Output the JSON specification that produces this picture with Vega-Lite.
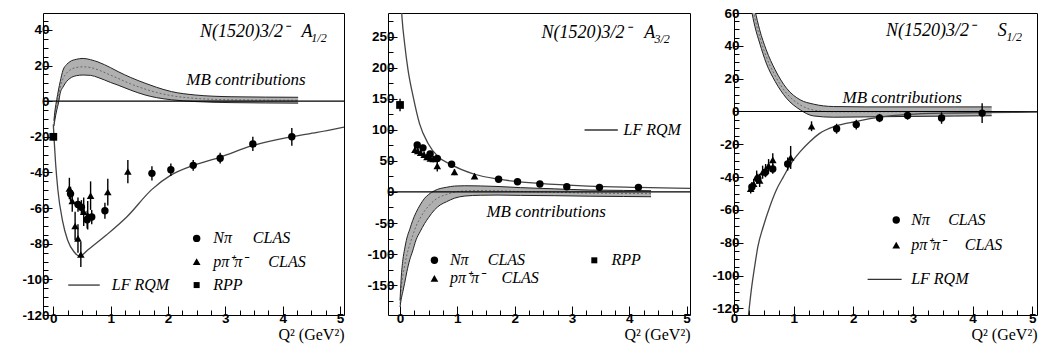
{
  "$schema": "https://vega.github.io/schema/vega-lite/v6.json",
  "background": "white",
  "padding": {"left": 21, "top": 5, "right": 2, "bottom": 2},
  "bounds": "flush",
  "spacing": 44,
  "config": {
    "view": {"stroke": "black", "strokeWidth": 1},
    "axis": {"domain": false, "grid": false, "labelFont": "Liberation Sans", "labelFontWeight": "bold", "labelFontSize": 13.5, "labelColor": "black", "tickColor": "black", "tickWidth": 1, "labelFlush": false, "titleFont": "Liberation Serif", "titleFontWeight": "normal", "titleFontSize": 16, "titleColor": "black"},
    "text": {"font": "Liberation Serif", "fontStyle": "italic", "fontSize": 16, "color": "black"}
  },
  "datasets": {
    "one": [{"k": 1}],
    "p1_pts": [
      {"q2": 0.3, "v": -52, "err": 4, "src": "Nπ CLAS"},
      {"q2": 0.43, "v": -58, "err": 4, "src": "Nπ CLAS"},
      {"q2": 0.49, "v": -59.5, "err": 4, "src": "Nπ CLAS"},
      {"q2": 0.59, "v": -66.5, "err": 5, "src": "Nπ CLAS"},
      {"q2": 0.67, "v": -65, "err": 4, "src": "Nπ CLAS"},
      {"q2": 0.9, "v": -61.5, "err": 4.5, "src": "Nπ CLAS"},
      {"q2": 1.72, "v": -40.5, "err": 4, "src": "Nπ CLAS"},
      {"q2": 2.05, "v": -38.5, "err": 3.5, "src": "Nπ CLAS"},
      {"q2": 2.44, "v": -36, "err": 3, "src": "Nπ CLAS"},
      {"q2": 2.91, "v": -32, "err": 3, "src": "Nπ CLAS"},
      {"q2": 3.48, "v": -24, "err": 4, "src": "Nπ CLAS"},
      {"q2": 4.16, "v": -20, "err": 5, "src": "Nπ CLAS"},
      {"q2": 0.28, "v": -49, "err": 6, "src": "pπ⁺π⁻ CLAS"},
      {"q2": 0.33, "v": -56, "err": 6, "src": "pπ⁺π⁻ CLAS"},
      {"q2": 0.38, "v": -70, "err": 8, "src": "pπ⁺π⁻ CLAS"},
      {"q2": 0.43, "v": -77, "err": 8, "src": "pπ⁺π⁻ CLAS"},
      {"q2": 0.48, "v": -86, "err": 7, "src": "pπ⁺π⁻ CLAS"},
      {"q2": 0.53, "v": -62, "err": 8, "src": "pπ⁺π⁻ CLAS"},
      {"q2": 0.6, "v": -64, "err": 8, "src": "pπ⁺π⁻ CLAS"},
      {"q2": 0.65, "v": -53, "err": 8, "src": "pπ⁺π⁻ CLAS"},
      {"q2": 0.95, "v": -51, "err": 7.5, "src": "pπ⁺π⁻ CLAS"},
      {"q2": 1.3, "v": -39.5, "err": 6.5, "src": "pπ⁺π⁻ CLAS"},
      {"q2": 0, "v": -20, "err": 2, "src": "RPP"}
    ],
    "p1_lf": [
      {"q2": 0, "v": -13}, {"q2": 0.015, "v": -22}, {"q2": 0.04, "v": -35}, {"q2": 0.08, "v": -50},
      {"q2": 0.16, "v": -67}, {"q2": 0.25, "v": -78}, {"q2": 0.36, "v": -84.5}, {"q2": 0.46, "v": -87},
      {"q2": 0.6, "v": -83.5}, {"q2": 0.93, "v": -75}, {"q2": 1.28, "v": -65}, {"q2": 1.72, "v": -49.5},
      {"q2": 2.05, "v": -41.5}, {"q2": 2.44, "v": -36}, {"q2": 2.9, "v": -31.5}, {"q2": 3.47, "v": -25},
      {"q2": 4.15, "v": -20}, {"q2": 4.6, "v": -17.5}, {"q2": 5.07, "v": -14.5}
    ],
    "p1_band": [
      {"q2": 0.01, "lo": -14, "mid": -12.5, "hi": -11}, {"q2": 0.03, "lo": -10, "mid": -7.5, "hi": -5}, {"q2": 0.06, "lo": -5, "mid": -2, "hi": 1},
      {"q2": 0.09, "lo": -1, "mid": 2.6, "hi": 6.3}, {"q2": 0.12, "lo": 4.5, "mid": 7.7, "hi": 11}, {"q2": 0.17, "lo": 8, "mid": 12.7, "hi": 17.5},
      {"q2": 0.23, "lo": 11, "mid": 15.7, "hi": 20.5}, {"q2": 0.29, "lo": 12.8, "mid": 17.5, "hi": 22.2}, {"q2": 0.4, "lo": 14.3, "mid": 18.9, "hi": 23.5},
      {"q2": 0.52, "lo": 14.7, "mid": 19.3, "hi": 24}, {"q2": 0.65, "lo": 14.5, "mid": 18.9, "hi": 23.3}, {"q2": 0.78, "lo": 13.3, "mid": 17.6, "hi": 22},
      {"q2": 1.0, "lo": 10.5, "mid": 14.6, "hi": 18.8}, {"q2": 1.13, "lo": 9, "mid": 12.8, "hi": 16.6}, {"q2": 1.35, "lo": 6.2, "mid": 9.7, "hi": 13.3},
      {"q2": 1.6, "lo": 3.5, "mid": 6.8, "hi": 10.1}, {"q2": 1.8, "lo": 2, "mid": 4.9, "hi": 7.8}, {"q2": 2.06, "lo": 0.8, "mid": 3.1, "hi": 5.4},
      {"q2": 2.47, "lo": -0.2, "mid": 1.6, "hi": 3.5}, {"q2": 3.1, "lo": -0.8, "mid": 0.8, "hi": 2.5}, {"q2": 3.7, "lo": -1, "mid": 0.6, "hi": 2.3},
      {"q2": 4.27, "lo": -1.1, "mid": 0.5, "hi": 2.2}
    ],
    "p2_pts": [
      {"q2": 0.3, "v": 75.5, "err": 5, "src": "Nπ CLAS"},
      {"q2": 0.4, "v": 71, "err": 5, "src": "Nπ CLAS"},
      {"q2": 0.525, "v": 61, "err": 5, "src": "Nπ CLAS"},
      {"q2": 0.65, "v": 54, "err": 5, "src": "Nπ CLAS"},
      {"q2": 0.9, "v": 44.5, "err": 5, "src": "Nπ CLAS"},
      {"q2": 1.72, "v": 20.5, "err": 3, "src": "Nπ CLAS"},
      {"q2": 2.05, "v": 16.5, "err": 3, "src": "Nπ CLAS"},
      {"q2": 2.44, "v": 12.7, "err": 3, "src": "Nπ CLAS"},
      {"q2": 2.91, "v": 8.4, "err": 3, "src": "Nπ CLAS"},
      {"q2": 3.48, "v": 7.4, "err": 3, "src": "Nπ CLAS"},
      {"q2": 4.16, "v": 7.4, "err": 3, "src": "Nπ CLAS"},
      {"q2": 0.26, "v": 68, "err": 5, "src": "pπ⁺π⁻ CLAS"},
      {"q2": 0.31, "v": 66, "err": 5, "src": "pπ⁺π⁻ CLAS"},
      {"q2": 0.36, "v": 63, "err": 5, "src": "pπ⁺π⁻ CLAS"},
      {"q2": 0.42, "v": 60, "err": 5, "src": "pπ⁺π⁻ CLAS"},
      {"q2": 0.47, "v": 56.5, "err": 5, "src": "pπ⁺π⁻ CLAS"},
      {"q2": 0.53, "v": 54, "err": 5, "src": "pπ⁺π⁻ CLAS"},
      {"q2": 0.58, "v": 53, "err": 5, "src": "pπ⁺π⁻ CLAS"},
      {"q2": 0.65, "v": 42, "err": 9, "src": "pπ⁺π⁻ CLAS"},
      {"q2": 0.95, "v": 32, "err": 5, "src": "pπ⁺π⁻ CLAS"},
      {"q2": 1.3, "v": 25.5, "err": 4, "src": "pπ⁺π⁻ CLAS"},
      {"q2": 0, "v": 140, "err": 10, "src": "RPP"}
    ],
    "p2_lf": [
      {"q2": 0.015, "v": 310}, {"q2": 0.035, "v": 280}, {"q2": 0.08, "v": 239}, {"q2": 0.14, "v": 196},
      {"q2": 0.23, "v": 153}, {"q2": 0.34, "v": 110}, {"q2": 0.49, "v": 78}, {"q2": 0.66, "v": 57},
      {"q2": 0.89, "v": 44}, {"q2": 1.3, "v": 28.5}, {"q2": 1.72, "v": 20.5}, {"q2": 2.43, "v": 13.8},
      {"q2": 3.28, "v": 9.5}, {"q2": 4.14, "v": 7.4}, {"q2": 5.06, "v": 5.7}
    ],
    "p2_band": [
      {"q2": 0, "lo": -185, "mid": -180, "hi": -175}, {"q2": 0.02, "lo": -173, "mid": -156, "hi": -139}, {"q2": 0.05, "lo": -160, "mid": -134, "hi": -109},
      {"q2": 0.08, "lo": -147, "mid": -119, "hi": -92}, {"q2": 0.12, "lo": -128, "mid": -101, "hi": -74}, {"q2": 0.17, "lo": -109, "mid": -84.5, "hi": -60},
      {"q2": 0.22, "lo": -95, "mid": -70.5, "hi": -46}, {"q2": 0.28, "lo": -77, "mid": -55, "hi": -33}, {"q2": 0.35, "lo": -64, "mid": -42.5, "hi": -21},
      {"q2": 0.43, "lo": -50.6, "mid": -30.3, "hi": -10}, {"q2": 0.5, "lo": -41, "mid": -22.5, "hi": -4}, {"q2": 0.6, "lo": -29, "mid": -13.5, "hi": 2},
      {"q2": 0.7, "lo": -21, "mid": -7.7, "hi": 5.5}, {"q2": 0.81, "lo": -15.8, "mid": -4.1, "hi": 7.5}, {"q2": 0.95, "lo": -10, "mid": -0.2, "hi": 9.5},
      {"q2": 1.13, "lo": -6.6, "mid": 1.7, "hi": 10}, {"q2": 1.4, "lo": -5.3, "mid": 2.2, "hi": 9.7}, {"q2": 1.71, "lo": -5, "mid": 1.9, "hi": 8.8},
      {"q2": 2.1, "lo": -5.5, "mid": 0.7, "hi": 7}, {"q2": 2.7, "lo": -6, "mid": -0.5, "hi": 5}, {"q2": 3.3, "lo": -6.8, "mid": -1.8, "hi": 3.1},
      {"q2": 3.9, "lo": -7.3, "mid": -2.4, "hi": 2.5}, {"q2": 4.38, "lo": -7.7, "mid": -2.8, "hi": 2}
    ],
    "p3_pts": [
      {"q2": 0.3, "v": -46, "err": 3, "src": "Nπ CLAS"},
      {"q2": 0.4, "v": -41, "err": 3, "src": "Nπ CLAS"},
      {"q2": 0.525, "v": -37, "err": 3, "src": "Nπ CLAS"},
      {"q2": 0.65, "v": -35, "err": 3, "src": "Nπ CLAS"},
      {"q2": 0.9, "v": -32, "err": 4, "src": "Nπ CLAS"},
      {"q2": 1.72, "v": -10.5, "err": 3, "src": "Nπ CLAS"},
      {"q2": 2.05, "v": -8, "err": 3, "src": "Nπ CLAS"},
      {"q2": 2.44, "v": -4, "err": 2.5, "src": "Nπ CLAS"},
      {"q2": 2.91, "v": -2.5, "err": 2.5, "src": "Nπ CLAS"},
      {"q2": 3.48, "v": -4, "err": 3.5, "src": "Nπ CLAS"},
      {"q2": 4.16, "v": -1, "err": 6, "src": "Nπ CLAS"},
      {"q2": 0.28, "v": -47, "err": 3, "src": "pπ⁺π⁻ CLAS"},
      {"q2": 0.33, "v": -44, "err": 3, "src": "pπ⁺π⁻ CLAS"},
      {"q2": 0.38, "v": -40, "err": 4, "src": "pπ⁺π⁻ CLAS"},
      {"q2": 0.43, "v": -42, "err": 4, "src": "pπ⁺π⁻ CLAS"},
      {"q2": 0.48, "v": -37, "err": 4, "src": "pπ⁺π⁻ CLAS"},
      {"q2": 0.53, "v": -36, "err": 4, "src": "pπ⁺π⁻ CLAS"},
      {"q2": 0.58, "v": -33, "err": 4, "src": "pπ⁺π⁻ CLAS"},
      {"q2": 0.65, "v": -29.5, "err": 4, "src": "pπ⁺π⁻ CLAS"},
      {"q2": 0.95, "v": -28, "err": 7, "src": "pπ⁺π⁻ CLAS"},
      {"q2": 1.3, "v": -9, "err": 3, "src": "pπ⁺π⁻ CLAS"}
    ],
    "p3_lf": [
      {"q2": 0.22, "v": -132}, {"q2": 0.29, "v": -108.8}, {"q2": 0.35, "v": -93.6}, {"q2": 0.4, "v": -82.4},
      {"q2": 0.49, "v": -70.2}, {"q2": 0.6, "v": -58}, {"q2": 0.71, "v": -47.8}, {"q2": 0.83, "v": -39.7},
      {"q2": 0.96, "v": -31.5}, {"q2": 1.11, "v": -24.5}, {"q2": 1.27, "v": -18.5}, {"q2": 1.43, "v": -13.5},
      {"q2": 1.71, "v": -8.8}, {"q2": 2.05, "v": -6.1}, {"q2": 2.44, "v": -3.5}, {"q2": 2.92, "v": -1.8},
      {"q2": 3.48, "v": -1.0}, {"q2": 4.18, "v": -0.7}, {"q2": 5.08, "v": -0.4}
    ],
    "p3_band": [
      {"q2": 0.27, "lo": 65.5, "mid": 71, "hi": 77}, {"q2": 0.29, "lo": 62, "mid": 67.5, "hi": 73}, {"q2": 0.35, "lo": 51.8, "mid": 56.9, "hi": 62},
      {"q2": 0.43, "lo": 41.7, "mid": 45.7, "hi": 49.8}, {"q2": 0.54, "lo": 29.5, "mid": 33.5, "hi": 37.6}, {"q2": 0.69, "lo": 18.3, "mid": 21.8, "hi": 25.4},
      {"q2": 0.88, "lo": 8.1, "mid": 11.1, "hi": 14.2}, {"q2": 1.11, "lo": 1.0, "mid": 4, "hi": 7.1}, {"q2": 1.33, "lo": -2.7, "mid": 0.9, "hi": 4.5},
      {"q2": 1.67, "lo": -3.5, "mid": -0.2, "hi": 3.0}, {"q2": 2.2, "lo": -3.3, "mid": -0.2, "hi": 2.8}, {"q2": 3.0, "lo": -3, "mid": -0.1, "hi": 2.8},
      {"q2": 3.7, "lo": -2.8, "mid": 0, "hi": 2.8}, {"q2": 4.32, "lo": -2.6, "mid": 0.1, "hi": 2.8}
    ]
  },
  "hconcat": [
    {
      "width": 301, "height": 302,
      "resolve": {"axis": {"x": "independent", "y": "independent"}},
      "layer": [
        {"data": {"name": "p1_band"}, "mark": {"type": "area", "clip": true, "fill": "#b0b0b0", "interpolate": "monotone"},
         "encoding": {
           "x": {"field": "q2", "type": "quantitative", "scale": {"domain": [-0.18, 5.07], "nice": false, "zero": false},
                 "axis": {"orient": "bottom", "title": "Q² (GeV²)", "titleAnchor": "end", "titlePadding": 2, "values": [0, 1, 2, 3, 4, 5],
                          "labelExpr": "''+datum.value", "labelPadding": 5, "tickSize": -9}},
           "y": {"field": "lo", "type": "quantitative", "scale": {"domain": [-120, 49.5], "nice": false, "zero": false},
                 "axis": {"orient": "left", "title": null, "values": [-120, -100, -80, -60, -40, -20, 0, 20, 40],
                          "labelExpr": "''+datum.value", "labelPadding": 3, "tickSize": -9}},
           "y2": {"field": "hi"}}},
        {"data": {"name": "p1_band"}, "mark": {"type": "line", "clip": true, "stroke": "#555555", "strokeWidth": 0.8, "strokeDash": [2, 2], "interpolate": "monotone"},
         "encoding": {
           "x": {"field": "q2", "type": "quantitative", "axis": {"orient": "bottom", "title": null, "labels": false, "domain": false, "tickSize": -5,
                 "values": [0,0.25,0.5,0.75,1,1.25,1.5,1.75,2,2.25,2.5,2.75,3,3.25,3.5,3.75,4,4.25,4.5,4.75,5]}},
           "y": {"field": "mid", "type": "quantitative", "axis": {"orient": "left", "title": null, "labels": false, "domain": false, "tickSize": -5,
                 "values": [-120,-115,-110,-105,-100,-95,-90,-85,-80,-75,-70,-65,-60,-55,-50,-45,-40,-35,-30,-25,-20,-15,-10,-5,0,5,10,15,20,25,30,35,40,45]}}}},
        {"data": {"name": "p1_band"}, "mark": {"type": "line", "clip": true, "stroke": "#222222", "strokeWidth": 1, "interpolate": "monotone"},
         "encoding": {"x": {"field": "q2", "type": "quantitative", "axis": null}, "y": {"field": "hi", "type": "quantitative", "axis": null}}},
        {"data": {"name": "p1_band"}, "mark": {"type": "line", "clip": true, "stroke": "#222222", "strokeWidth": 1, "interpolate": "monotone"},
         "encoding": {"x": {"field": "q2", "type": "quantitative", "axis": null}, "y": {"field": "lo", "type": "quantitative", "axis": null}}},
        {"data": {"name": "one"}, "mark": {"type": "rule", "color": "black", "strokeWidth": 1.2},
         "encoding": {"y": {"datum": 0, "type": "quantitative", "axis": null}}},
        {"data": {"name": "p1_lf"}, "mark": {"type": "line", "clip": true, "stroke": "#444444", "strokeWidth": 1.3, "interpolate": "monotone"},
         "encoding": {"x": {"field": "q2", "type": "quantitative", "axis": null}, "y": {"field": "v", "type": "quantitative", "axis": null}}},
        {"data": {"name": "p1_pts"}, "mark": {"type": "errorbar", "ticks": false, "thickness": 1.4, "color": "black"},
         "encoding": {"x": {"field": "q2", "type": "quantitative", "axis": null}, "y": {"field": "v", "type": "quantitative", "axis": null}, "yError": {"field": "err"}}},
        {"data": {"name": "p1_pts"}, "mark": {"type": "point", "filled": true, "opacity": 1, "color": "black"},
         "encoding": {"x": {"field": "q2", "type": "quantitative", "axis": null}, "y": {"field": "v", "type": "quantitative", "axis": null},
           "shape": {"field": "src", "type": "nominal", "scale": {"domain": ["Nπ CLAS", "pπ⁺π⁻ CLAS", "RPP"], "range": ["circle", "triangle-up", "square"]}, "legend": null},
           "size": {"field": "src", "type": "ordinal", "scale": {"domain": ["Nπ CLAS", "pπ⁺π⁻ CLAS", "RPP"], "range": [55, 60, 36]}, "legend": null}}},
        {"data": {"name": "one"}, "mark": {"type": "text", "text": "N(1520)3/2⁻", "align": "left", "baseline": "middle", "fontSize": 18},
         "encoding": {"x": {"datum": 2.56, "type": "quantitative", "axis": null}, "y": {"datum": 38.9, "type": "quantitative", "axis": null}}},
        {"data": {"name": "one"}, "mark": {"type": "text", "text": "A", "align": "left", "baseline": "middle", "fontSize": 18},
         "encoding": {"x": {"datum": 4.33, "type": "quantitative", "axis": null}, "y": {"datum": 38.9, "type": "quantitative", "axis": null}}},
        {"data": {"name": "one"}, "mark": {"type": "text", "text": "1/2", "align": "left", "baseline": "middle", "fontSize": 12, "dy": 6},
         "encoding": {"x": {"datum": 4.5, "type": "quantitative", "axis": null}, "y": {"datum": 38.9, "type": "quantitative", "axis": null}}},
        {"data": {"name": "one"}, "mark": {"type": "text", "text": "MB contributions", "align": "center", "baseline": "middle", "fontSize": 17},
         "encoding": {"x": {"datum": 3.36, "type": "quantitative", "axis": null}, "y": {"datum": 11.9, "type": "quantitative", "axis": null}}},
        {"data": {"name": "one"}, "mark": {"type": "point", "shape": "circle", "filled": true, "opacity": 1, "color": "black", "size": 55},
         "encoding": {"x": {"datum": 2.5, "type": "quantitative", "axis": null}, "y": {"datum": -77, "type": "quantitative", "axis": null}}},
        {"data": {"name": "one"}, "mark": {"type": "text", "text": "Nπ", "align": "left", "baseline": "middle"},
         "encoding": {"x": {"datum": 2.79, "type": "quantitative", "axis": null}, "y": {"datum": -77, "type": "quantitative", "axis": null}}},
        {"data": {"name": "one"}, "mark": {"type": "text", "text": "CLAS", "align": "left", "baseline": "middle"},
         "encoding": {"x": {"datum": 3.48, "type": "quantitative", "axis": null}, "y": {"datum": -77, "type": "quantitative", "axis": null}}},
        {"data": {"name": "one"}, "mark": {"type": "point", "shape": "triangle-up", "filled": true, "opacity": 1, "color": "black", "size": 60},
         "encoding": {"x": {"datum": 2.5, "type": "quantitative", "axis": null}, "y": {"datum": -90, "type": "quantitative", "axis": null}}},
        {"data": {"name": "one"}, "mark": {"type": "text", "text": "pπ⁺π⁻", "align": "left", "baseline": "middle"},
         "encoding": {"x": {"datum": 2.79, "type": "quantitative", "axis": null}, "y": {"datum": -90, "type": "quantitative", "axis": null}}},
        {"data": {"name": "one"}, "mark": {"type": "text", "text": "CLAS", "align": "left", "baseline": "middle"},
         "encoding": {"x": {"datum": 3.75, "type": "quantitative", "axis": null}, "y": {"datum": -90, "type": "quantitative", "axis": null}}},
        {"data": {"name": "one"}, "mark": {"type": "rule", "color": "#333333", "strokeWidth": 1.3},
         "encoding": {"x": {"datum": 0.26, "type": "quantitative", "axis": null}, "x2": {"datum": 0.81}, "y": {"datum": -103.2, "type": "quantitative", "axis": null}}},
        {"data": {"name": "one"}, "mark": {"type": "text", "text": "LF RQM", "align": "left", "baseline": "middle"},
         "encoding": {"x": {"datum": 1.02, "type": "quantitative", "axis": null}, "y": {"datum": -103.2, "type": "quantitative", "axis": null}}},
        {"data": {"name": "one"}, "mark": {"type": "point", "shape": "square", "filled": true, "opacity": 1, "color": "black", "size": 36},
         "encoding": {"x": {"datum": 2.5, "type": "quantitative", "axis": null}, "y": {"datum": -103.2, "type": "quantitative", "axis": null}}},
        {"data": {"name": "one"}, "mark": {"type": "text", "text": "RPP", "align": "left", "baseline": "middle"},
         "encoding": {"x": {"datum": 2.79, "type": "quantitative", "axis": null}, "y": {"datum": -103.2, "type": "quantitative", "axis": null}}}
      ]
    },
    {
      "width": 302, "height": 302,
      "resolve": {"axis": {"x": "independent", "y": "independent"}},
      "layer": [
        {"data": {"name": "p2_band"}, "mark": {"type": "area", "clip": true, "fill": "#b0b0b0", "interpolate": "monotone"},
         "encoding": {
           "x": {"field": "q2", "type": "quantitative", "scale": {"domain": [-0.21, 5.06], "nice": false, "zero": false},
                 "axis": {"orient": "bottom", "title": "Q² (GeV²)", "titleAnchor": "end", "titlePadding": 2, "values": [0, 1, 2, 3, 4, 5],
                          "labelExpr": "''+datum.value", "labelPadding": 5, "tickSize": -9}},
           "y": {"field": "lo", "type": "quantitative", "scale": {"domain": [-198, 288], "nice": false, "zero": false},
                 "axis": {"orient": "left", "title": null, "values": [-150, -100, -50, 0, 50, 100, 150, 200, 250],
                          "labelExpr": "''+datum.value", "labelPadding": 3, "tickSize": -9}},
           "y2": {"field": "hi"}}},
        {"data": {"name": "p2_band"}, "mark": {"type": "line", "clip": true, "stroke": "#555555", "strokeWidth": 0.8, "strokeDash": [2, 2], "interpolate": "monotone"},
         "encoding": {
           "x": {"field": "q2", "type": "quantitative", "axis": {"orient": "bottom", "title": null, "labels": false, "domain": false, "tickSize": -5,
                 "values": [0,0.25,0.5,0.75,1,1.25,1.5,1.75,2,2.25,2.5,2.75,3,3.25,3.5,3.75,4,4.25,4.5,4.75,5]}},
           "y": {"field": "mid", "type": "quantitative", "axis": {"orient": "left", "title": null, "labels": false, "domain": false, "tickSize": -5,
                 "values": [-175,-150,-125,-100,-75,-50,-25,0,25,50,75,100,125,150,175,200,225,250,275]}}}},
        {"data": {"name": "p2_band"}, "mark": {"type": "line", "clip": true, "stroke": "#222222", "strokeWidth": 1, "interpolate": "monotone"},
         "encoding": {"x": {"field": "q2", "type": "quantitative", "axis": null}, "y": {"field": "hi", "type": "quantitative", "axis": null}}},
        {"data": {"name": "p2_band"}, "mark": {"type": "line", "clip": true, "stroke": "#222222", "strokeWidth": 1, "interpolate": "monotone"},
         "encoding": {"x": {"field": "q2", "type": "quantitative", "axis": null}, "y": {"field": "lo", "type": "quantitative", "axis": null}}},
        {"data": {"name": "one"}, "mark": {"type": "rule", "color": "black", "strokeWidth": 1.2},
         "encoding": {"y": {"datum": 0, "type": "quantitative", "axis": null}}},
        {"data": {"name": "p2_lf"}, "mark": {"type": "line", "clip": true, "stroke": "#444444", "strokeWidth": 1.3, "interpolate": "monotone"},
         "encoding": {"x": {"field": "q2", "type": "quantitative", "axis": null}, "y": {"field": "v", "type": "quantitative", "axis": null}}},
        {"data": {"name": "p2_pts"}, "mark": {"type": "errorbar", "ticks": false, "thickness": 1.4, "color": "black"},
         "encoding": {"x": {"field": "q2", "type": "quantitative", "axis": null}, "y": {"field": "v", "type": "quantitative", "axis": null}, "yError": {"field": "err"}}},
        {"data": {"name": "p2_pts"}, "mark": {"type": "point", "filled": true, "opacity": 1, "color": "black"},
         "encoding": {"x": {"field": "q2", "type": "quantitative", "axis": null}, "y": {"field": "v", "type": "quantitative", "axis": null},
           "shape": {"field": "src", "type": "nominal", "scale": {"domain": ["Nπ CLAS", "pπ⁺π⁻ CLAS", "RPP"], "range": ["circle", "triangle-up", "square"]}, "legend": null},
           "size": {"field": "src", "type": "ordinal", "scale": {"domain": ["Nπ CLAS", "pπ⁺π⁻ CLAS", "RPP"], "range": [55, 60, 36]}, "legend": null}}},
        {"data": {"name": "one"}, "mark": {"type": "text", "text": "N(1520)3/2⁻", "align": "left", "baseline": "middle", "fontSize": 18},
         "encoding": {"x": {"datum": 2.47, "type": "quantitative", "axis": null}, "y": {"datum": 256, "type": "quantitative", "axis": null}}},
        {"data": {"name": "one"}, "mark": {"type": "text", "text": "A", "align": "left", "baseline": "middle", "fontSize": 18},
         "encoding": {"x": {"datum": 4.26, "type": "quantitative", "axis": null}, "y": {"datum": 256, "type": "quantitative", "axis": null}}},
        {"data": {"name": "one"}, "mark": {"type": "text", "text": "3/2", "align": "left", "baseline": "middle", "fontSize": 12, "dy": 6},
         "encoding": {"x": {"datum": 4.44, "type": "quantitative", "axis": null}, "y": {"datum": 256, "type": "quantitative", "axis": null}}},
        {"data": {"name": "one"}, "mark": {"type": "text", "text": "MB contributions", "align": "center", "baseline": "middle", "fontSize": 17},
         "encoding": {"x": {"datum": 2.55, "type": "quantitative", "axis": null}, "y": {"datum": -32, "type": "quantitative", "axis": null}}},
        {"data": {"name": "one"}, "mark": {"type": "rule", "color": "#333333", "strokeWidth": 1.3},
         "encoding": {"x": {"datum": 3.22, "type": "quantitative", "axis": null}, "x2": {"datum": 3.8}, "y": {"datum": 99.7, "type": "quantitative", "axis": null}}},
        {"data": {"name": "one"}, "mark": {"type": "text", "text": "LF RQM", "align": "left", "baseline": "middle"},
         "encoding": {"x": {"datum": 3.9, "type": "quantitative", "axis": null}, "y": {"datum": 99.7, "type": "quantitative", "axis": null}}},
        {"data": {"name": "one"}, "mark": {"type": "point", "shape": "circle", "filled": true, "opacity": 1, "color": "black", "size": 55},
         "encoding": {"x": {"datum": 0.6, "type": "quantitative", "axis": null}, "y": {"datum": -110, "type": "quantitative", "axis": null}}},
        {"data": {"name": "one"}, "mark": {"type": "text", "text": "Nπ", "align": "left", "baseline": "middle"},
         "encoding": {"x": {"datum": 0.87, "type": "quantitative", "axis": null}, "y": {"datum": -110, "type": "quantitative", "axis": null}}},
        {"data": {"name": "one"}, "mark": {"type": "text", "text": "CLAS", "align": "left", "baseline": "middle"},
         "encoding": {"x": {"datum": 1.53, "type": "quantitative", "axis": null}, "y": {"datum": -110, "type": "quantitative", "axis": null}}},
        {"data": {"name": "one"}, "mark": {"type": "point", "shape": "triangle-up", "filled": true, "opacity": 1, "color": "black", "size": 60},
         "encoding": {"x": {"datum": 0.6, "type": "quantitative", "axis": null}, "y": {"datum": -139, "type": "quantitative", "axis": null}}},
        {"data": {"name": "one"}, "mark": {"type": "text", "text": "pπ⁺π⁻", "align": "left", "baseline": "middle"},
         "encoding": {"x": {"datum": 0.87, "type": "quantitative", "axis": null}, "y": {"datum": -139, "type": "quantitative", "axis": null}}},
        {"data": {"name": "one"}, "mark": {"type": "text", "text": "CLAS", "align": "left", "baseline": "middle"},
         "encoding": {"x": {"datum": 1.77, "type": "quantitative", "axis": null}, "y": {"datum": -139, "type": "quantitative", "axis": null}}},
        {"data": {"name": "one"}, "mark": {"type": "point", "shape": "square", "filled": true, "opacity": 1, "color": "black", "size": 36},
         "encoding": {"x": {"datum": 3.39, "type": "quantitative", "axis": null}, "y": {"datum": -110, "type": "quantitative", "axis": null}}},
        {"data": {"name": "one"}, "mark": {"type": "text", "text": "RPP", "align": "left", "baseline": "middle"},
         "encoding": {"x": {"datum": 3.69, "type": "quantitative", "axis": null}, "y": {"datum": -110, "type": "quantitative", "axis": null}}}
      ]
    },
    {
      "width": 303, "height": 302,
      "resolve": {"axis": {"x": "independent", "y": "independent"}},
      "layer": [
        {"data": {"name": "p3_band"}, "mark": {"type": "area", "clip": true, "fill": "#b0b0b0", "interpolate": "monotone"},
         "encoding": {
           "x": {"field": "q2", "type": "quantitative", "scale": {"domain": [0, 5.08], "nice": false, "zero": false},
                 "axis": {"orient": "bottom", "title": "Q² (GeV²)", "titleAnchor": "end", "titlePadding": 2, "values": [0, 1, 2, 3, 4, 5],
                          "labelExpr": "''+datum.value", "labelPadding": 5, "tickSize": -9}},
           "y": {"field": "lo", "type": "quantitative", "scale": {"domain": [-124, 60], "nice": false, "zero": false},
                 "axis": {"orient": "left", "title": null, "values": [-120, -100, -80, -60, -40, -20, 0, 20, 40, 60],
                          "labelExpr": "''+datum.value", "labelPadding": 4, "tickSize": -9}},
           "y2": {"field": "hi"}}},
        {"data": {"name": "p3_band"}, "mark": {"type": "line", "clip": true, "stroke": "#555555", "strokeWidth": 0.8, "strokeDash": [2, 2], "interpolate": "monotone"},
         "encoding": {
           "x": {"field": "q2", "type": "quantitative", "axis": {"orient": "bottom", "title": null, "labels": false, "domain": false, "tickSize": -5,
                 "values": [0,0.25,0.5,0.75,1,1.25,1.5,1.75,2,2.25,2.5,2.75,3,3.25,3.5,3.75,4,4.25,4.5,4.75,5]}},
           "y": {"field": "mid", "type": "quantitative", "axis": {"orient": "left", "title": null, "labels": false, "domain": false, "tickSize": -5,
                 "values": [-120,-115,-110,-105,-100,-95,-90,-85,-80,-75,-70,-65,-60,-55,-50,-45,-40,-35,-30,-25,-20,-15,-10,-5,0,5,10,15,20,25,30,35,40,45,50,55,60]}}}},
        {"data": {"name": "p3_band"}, "mark": {"type": "line", "clip": true, "stroke": "#222222", "strokeWidth": 1, "interpolate": "monotone"},
         "encoding": {"x": {"field": "q2", "type": "quantitative", "axis": null}, "y": {"field": "hi", "type": "quantitative", "axis": null}}},
        {"data": {"name": "p3_band"}, "mark": {"type": "line", "clip": true, "stroke": "#222222", "strokeWidth": 1, "interpolate": "monotone"},
         "encoding": {"x": {"field": "q2", "type": "quantitative", "axis": null}, "y": {"field": "lo", "type": "quantitative", "axis": null}}},
        {"data": {"name": "one"}, "mark": {"type": "rule", "color": "black", "strokeWidth": 1.2},
         "encoding": {"y": {"datum": 0, "type": "quantitative", "axis": null}}},
        {"data": {"name": "p3_lf"}, "mark": {"type": "line", "clip": true, "stroke": "#444444", "strokeWidth": 1.3, "interpolate": "monotone"},
         "encoding": {"x": {"field": "q2", "type": "quantitative", "axis": null}, "y": {"field": "v", "type": "quantitative", "axis": null}}},
        {"data": {"name": "p3_pts"}, "mark": {"type": "errorbar", "ticks": false, "thickness": 1.4, "color": "black"},
         "encoding": {"x": {"field": "q2", "type": "quantitative", "axis": null}, "y": {"field": "v", "type": "quantitative", "axis": null}, "yError": {"field": "err"}}},
        {"data": {"name": "p3_pts"}, "mark": {"type": "point", "filled": true, "opacity": 1, "color": "black"},
         "encoding": {"x": {"field": "q2", "type": "quantitative", "axis": null}, "y": {"field": "v", "type": "quantitative", "axis": null},
           "shape": {"field": "src", "type": "nominal", "scale": {"domain": ["Nπ CLAS", "pπ⁺π⁻ CLAS", "RPP"], "range": ["circle", "triangle-up", "square"]}, "legend": null},
           "size": {"field": "src", "type": "ordinal", "scale": {"domain": ["Nπ CLAS", "pπ⁺π⁻ CLAS", "RPP"], "range": [55, 60, 36]}, "legend": null}}},
        {"data": {"name": "one"}, "mark": {"type": "text", "text": "N(1520)3/2⁻", "align": "left", "baseline": "middle", "fontSize": 18},
         "encoding": {"x": {"datum": 2.55, "type": "quantitative", "axis": null}, "y": {"datum": 48.8, "type": "quantitative", "axis": null}}},
        {"data": {"name": "one"}, "mark": {"type": "text", "text": "S", "align": "left", "baseline": "middle", "fontSize": 18},
         "encoding": {"x": {"datum": 4.42, "type": "quantitative", "axis": null}, "y": {"datum": 48.8, "type": "quantitative", "axis": null}}},
        {"data": {"name": "one"}, "mark": {"type": "text", "text": "1/2", "align": "left", "baseline": "middle", "fontSize": 12, "dy": 6},
         "encoding": {"x": {"datum": 4.57, "type": "quantitative", "axis": null}, "y": {"datum": 48.8, "type": "quantitative", "axis": null}}},
        {"data": {"name": "one"}, "mark": {"type": "text", "text": "MB contributions", "align": "center", "baseline": "middle", "fontSize": 17},
         "encoding": {"x": {"datum": 2.82, "type": "quantitative", "axis": null}, "y": {"datum": 8.1, "type": "quantitative", "axis": null}}},
        {"data": {"name": "one"}, "mark": {"type": "point", "shape": "circle", "filled": true, "opacity": 1, "color": "black", "size": 55},
         "encoding": {"x": {"datum": 2.72, "type": "quantitative", "axis": null}, "y": {"datum": -66.1, "type": "quantitative", "axis": null}}},
        {"data": {"name": "one"}, "mark": {"type": "text", "text": "Nπ", "align": "left", "baseline": "middle"},
         "encoding": {"x": {"datum": 2.97, "type": "quantitative", "axis": null}, "y": {"datum": -66.1, "type": "quantitative", "axis": null}}},
        {"data": {"name": "one"}, "mark": {"type": "text", "text": "CLAS", "align": "left", "baseline": "middle"},
         "encoding": {"x": {"datum": 3.59, "type": "quantitative", "axis": null}, "y": {"datum": -66.1, "type": "quantitative", "axis": null}}},
        {"data": {"name": "one"}, "mark": {"type": "point", "shape": "triangle-up", "filled": true, "opacity": 1, "color": "black", "size": 60},
         "encoding": {"x": {"datum": 2.72, "type": "quantitative", "axis": null}, "y": {"datum": -81.4, "type": "quantitative", "axis": null}}},
        {"data": {"name": "one"}, "mark": {"type": "text", "text": "pπ⁺π⁻", "align": "left", "baseline": "middle"},
         "encoding": {"x": {"datum": 2.97, "type": "quantitative", "axis": null}, "y": {"datum": -81.4, "type": "quantitative", "axis": null}}},
        {"data": {"name": "one"}, "mark": {"type": "text", "text": "CLAS", "align": "left", "baseline": "middle"},
         "encoding": {"x": {"datum": 3.87, "type": "quantitative", "axis": null}, "y": {"datum": -81.4, "type": "quantitative", "axis": null}}},
        {"data": {"name": "one"}, "mark": {"type": "rule", "color": "#333333", "strokeWidth": 1.3},
         "encoding": {"x": {"datum": 2.24, "type": "quantitative", "axis": null}, "x2": {"datum": 2.81}, "y": {"datum": -102.3, "type": "quantitative", "axis": null}}},
        {"data": {"name": "one"}, "mark": {"type": "text", "text": "LF RQM", "align": "left", "baseline": "middle"},
         "encoding": {"x": {"datum": 2.97, "type": "quantitative", "axis": null}, "y": {"datum": -102.3, "type": "quantitative", "axis": null}}}
      ]
    }
  ]
}
